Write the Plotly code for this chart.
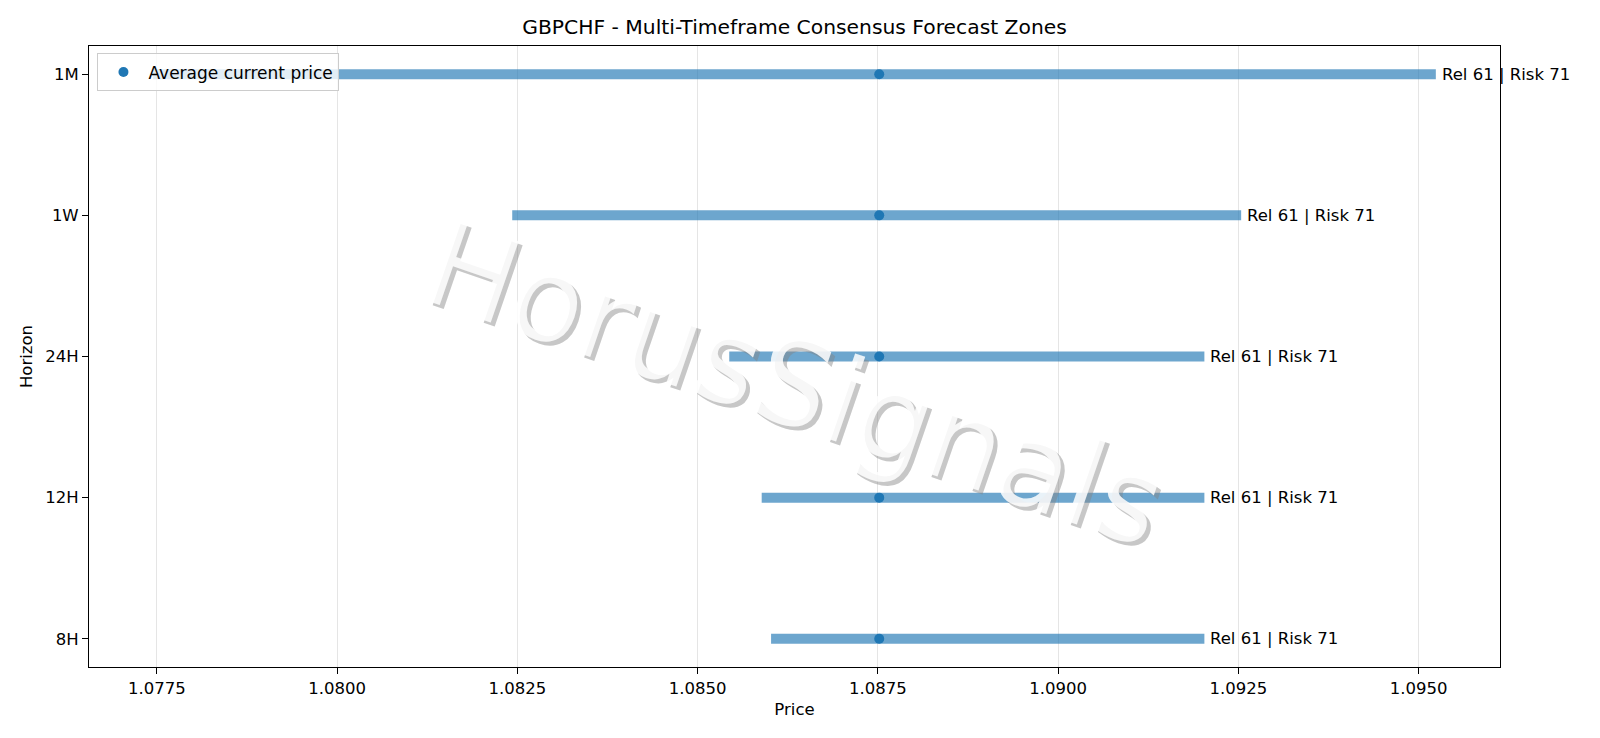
import plotly.graph_objects as go

# Forecast zones per horizon (bottom to top as drawn)
horizons = ["8H", "12H", "24H", "1W", "1M"]
zone_low = [1.08602, 1.08589, 1.08544, 1.08243, 1.07745]
zone_high = [1.09203, 1.09203, 1.09203, 1.09254, 1.09524]
current_price = [1.08752, 1.08752, 1.08752, 1.08752, 1.08752]
reliability = [61, 61, 61, 61, 61]
risk = [71, 71, 71, 71, 71]
price_ticks = [1.0775, 1.08, 1.0825, 1.085, 1.0875, 1.09, 1.0925, 1.095]

blue = "#1f77b4"
font = "DejaVu Sans, Arial, sans-serif"

fig = go.Figure()

# zone bars
for h, lo, hi in zip(horizons, zone_low, zone_high):
    fig.add_trace(go.Scatter(
        x=[lo, hi], y=[h, h], mode="lines",
        line=dict(color="rgba(31,119,180,0.65)", width=10),
        showlegend=False, hoverinfo="skip",
    ))

# current price dots
fig.add_trace(go.Scatter(
    x=current_price, y=horizons, mode="markers",
    marker=dict(color=blue, size=10),
    name="Average current price",
))

# Rel / Risk labels at the end of each zone
for h, hi, rel, rk in zip(horizons, zone_high, reliability, risk):
    fig.add_annotation(
        x=hi, y=h, text=f"Rel {rel} | Risk {rk}",
        showarrow=False, xanchor="left", yanchor="middle", xshift=4,
        font=dict(family=font, size=16.5, color="black"),
    )

# watermark: shadow first, then light fill on top
fig.add_annotation(
    x=0.5, y=0.455, xref="paper", yref="paper", text="HorusSignals",
    showarrow=False, textangle=19, xshift=4, yshift=-4,
    font=dict(family=font, size=118, color="rgba(130,130,130,0.45)"),
)
fig.add_annotation(
    x=0.5, y=0.455, xref="paper", yref="paper", text="HorusSignals",
    showarrow=False, textangle=19,
    font=dict(family=font, size=118, color="rgba(255,255,255,0.85)"),
)

fig.update_layout(
    width=1600, height=738,
    margin=dict(l=81, r=108, t=38, b=79),
    paper_bgcolor="white", plot_bgcolor="white",
    font=dict(family=font, size=16.5, color="black"),
    title=dict(text="GBPCHF - Multi-Timeframe Consensus Forecast Zones",
               x=0.5, xref="paper", xanchor="center", y=0.974, yanchor="middle",
               font=dict(size=20.3)),
    legend=dict(x=0.006, y=0.988, xanchor="left", yanchor="top",
                bgcolor="rgba(255,255,255,0.8)", bordercolor="#cccccc", borderwidth=1,
                font=dict(size=17), itemwidth=40),
)
fig.update_xaxes(
    title=dict(text="Price", standoff=6, font=dict(size=16.5)),
    range=[1.07656, 1.09613], tickvals=price_ticks,
    tickformat=".4f", tickfont=dict(size=16.5),
    showgrid=True, gridcolor="rgba(0,0,0,0.1)", gridwidth=1,
    showline=True, linecolor="black", linewidth=1, mirror=True,
    ticks="outside", ticklen=6, tickcolor="black", zeroline=False,
)
fig.update_yaxes(
    title=dict(text="Horizon", standoff=8, font=dict(size=16.5)),
    categoryorder="array", categoryarray=horizons, range=[-0.2, 4.2],
    tickfont=dict(size=16.5),
    showgrid=False, showline=True, linecolor="black", linewidth=1, mirror=True,
    ticks="outside", ticklen=6, tickcolor="black", zeroline=False,
)

fig.write_html("out.html")
